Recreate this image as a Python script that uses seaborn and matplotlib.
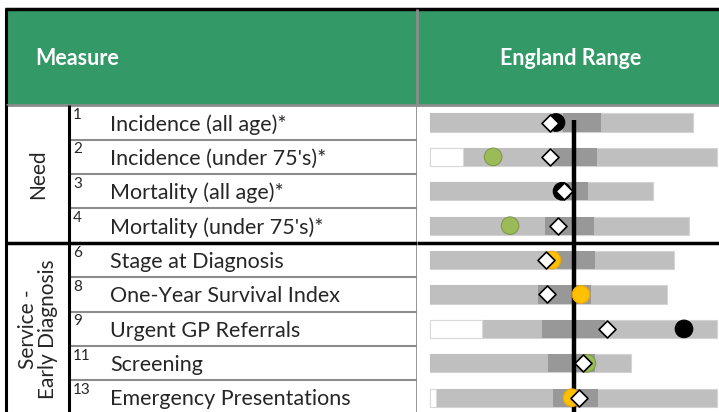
import numpy as np
import pandas as pd
import matplotlib.pyplot as plt
import seaborn as sns
from matplotlib.patches import Rectangle

sns.set_theme(style='white')
plt.rcParams['font.family'] = ['Lato', 'DejaVu Sans']

# ---- data (England range scaled 0-100, England average ~50) ----
groups = ['Need', 'Service -\nEarly Diagnosis']
group_sizes = [4, 5]
numbers = ['1', '2', '3', '4', '6', '8', '9', '11', '13']
measures = ['Incidence (all age)*', "Incidence (under 75's)*", 'Mortality (all age)*',
            "Mortality (under 75's)*", 'Stage at Diagnosis', 'One-Year Survival Index',
            'Urgent GP Referrals', 'Screening', 'Emergency Presentations']
range_trim = [0, 11.5, 0, 0, 0, 0, 18.1, 0, 2.1]
range_high = [91.6, 100, 77.7, 90.2, 85.0, 82.6, 100, 70.0, 100]
q_low = [46.5, 42.9, 48.1, 40.1, 44.3, 37.6, 39.0, 41.1, 42.9]
q_high = [59.6, 58.2, 55.1, 57.1, 57.5, 56.1, 61.0, 57.5, 58.5]
area_value = [43.9, 22.0, 46.0, 27.9, 42.5, 52.6, 88.5, 54.7, 49.5]
area_rag = ['black', 'green', 'black', 'green', 'amber', 'amber', 'black', 'green', 'amber']
peer_value = [41.8, 41.8, 46.7, 44.6, 40.4, 40.8, 61.7, 53.3, 51.9]
england = 50.2

df = pd.DataFrame({'number': numbers, 'measure': measures, 'trim': range_trim,
                   'high': range_high, 'q_low': q_low, 'q_high': q_high,
                   'area': area_value, 'rag': area_rag, 'peer': peer_value})
df['row'] = np.arange(len(df))

light = '#bfbfbf'
dark = '#989898'
rag_colors = {'black': '#000000', 'green': '#9bbb59', 'amber': '#ffc000'}
rag_edges = {'black': '#000000', 'green': '#7f9a48', 'amber': '#f0a800'}
header_green = '#339966'

W, H = 719, 412
fig = plt.figure(figsize=(W / 100, H / 100), dpi=100)

# rows: centre of row i at 122.5 + 34.4*i px (from top)
row_h = 34.4
top_px = 122.5 - row_h / 2
bot_px = top_px + row_h * len(df)
ax_y = (H - bot_px) / H
ax_h = (bot_px - top_px) / H
split_px = 417

ax_tab = fig.add_axes([0, ax_y, split_px / W, ax_h])
ax = fig.add_axes([split_px / W, ax_y, (W - split_px) / W, ax_h])
frame = fig.add_axes([0, 0, 1, 1], zorder=-1)
frame.set_xlim(0, W)
frame.set_ylim(H, 0)
frame.axis('off')

# ---- spine chart ----
px_per_unit = 2.87
ax.set_xlim((split_px - 430) / px_per_unit, (W - 430) / px_per_unit)
bar_w = 0.53
sns.barplot(data=df, x='high', y='measure', order=measures, color=light, saturation=1,
            width=bar_w, edgecolor='#d4d4d4', linewidth=0.8, errorbar=None, ax=ax)
sns.barplot(data=df, x='q_high', y='measure', order=measures, color=dark, saturation=1,
            width=bar_w, linewidth=0, errorbar=None, ax=ax)
sns.barplot(data=df, x='q_low', y='measure', order=measures, color=light, saturation=1,
            width=bar_w, linewidth=0, errorbar=None, ax=ax)
sns.barplot(data=df[df['trim'] > 0], x='trim', y='measure', order=measures, color='white',
            saturation=1, width=bar_w, edgecolor='#d9d9d9', linewidth=0.8, errorbar=None, ax=ax)

ax.vlines(england, -0.08, len(df) + 1, color='black', linewidth=3.2, zorder=3)

sns.scatterplot(data=df, x='area', y='row', hue='rag', palette=rag_colors, s=160,
                edgecolor=[rag_edges[r] for r in df['rag']], linewidth=0.8,
                legend=False, zorder=4, ax=ax)
sns.scatterplot(data=df, x='peer', y='row', marker='D', color='white', s=75,
                edgecolor='black', linewidth=1.2, legend=False, zorder=5, ax=ax)
ax.set_ylim(len(df) - 0.5, -0.5)
ax.axis('off')

# ---- table part ----
ax_tab.set_xlim(0, split_px)
ax_tab.set_ylim(len(df) - 0.5, -0.5)
ax_tab.axis('off')
for i, (num, name) in enumerate(zip(numbers, measures)):
    ax_tab.text(73, i - 0.22, num, fontsize=11, ha='left', va='center')
    ax_tab.text(110, i + 0.05, name, fontsize=15.5, ha='left', va='center')

start = 0
for g, n in zip(groups, group_sizes):
    ax_tab.text(38, start + (n - 1) / 2, g, rotation=90, fontsize=15,
                ha='center', va='center', linespacing=1.05)
    for k in range(start, start + n - 1):
        ax_tab.hlines(k + 0.5, 69, split_px, color='#8c8c8c', linewidth=1.5)
    start += n
boundary = group_sizes[0] - 0.5
ax_tab.hlines(boundary, 6, split_px, color='black', linewidth=2.5, zorder=6)
ax.hlines(boundary, ax.get_xlim()[0], ax.get_xlim()[1], color='black', linewidth=2.5, zorder=6)
ax_tab.vlines([6, 69], -0.5, len(df), color='black', linewidth=2.2)
ax_tab.vlines(split_px - 0.5, -0.5, len(df), color='#8c8c8c', linewidth=2)

# ---- header ----
frame.add_patch(Rectangle((6, 9), W - 6, 95, color=header_green, zorder=0))
frame.hlines(9, 5, W, color='black', linewidth=2.5)
frame.vlines(6, 8, 106, color='black', linewidth=2.2)
frame.vlines(split_px - 0.5, 9, 106, color='#8c8c8c', linewidth=2)
frame.hlines(105, 6, W, color='#8c8c8c', linewidth=2)
frame.text(35, 58, 'Measure', color='white', fontsize=15.5, fontweight='bold',
           ha='left', va='center')
frame.text(571, 58, 'England Range', color='white', fontsize=15.5, fontweight='bold',
           ha='center', va='center')

fig.savefig('out.png', dpi=100)
